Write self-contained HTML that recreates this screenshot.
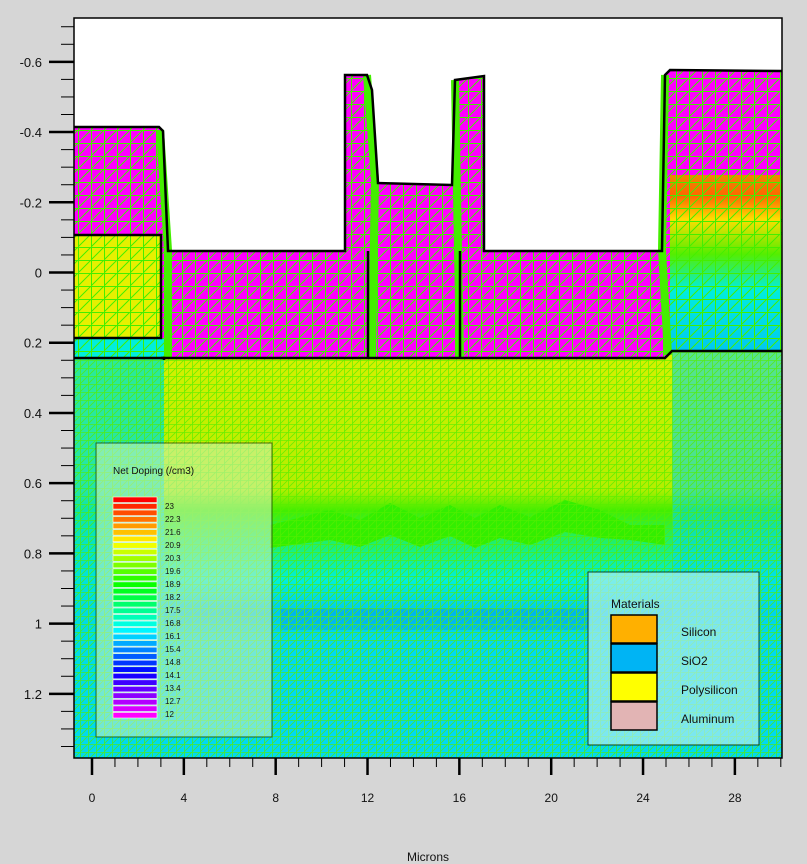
<!DOCTYPE html>
<html><head><meta charset="utf-8"><style>
body{margin:0;background:#d6d6d6;}
svg{display:block;font-family:"Liberation Sans",sans-serif;}
</style></head><body>
<svg id="chart" width="807" height="864" viewBox="0 0 807 864">
<defs>
<pattern id="mesh" width="13" height="13" patternUnits="userSpaceOnUse">
<path d="M0 0.5H13M0.5 0V13M0 13L13 0" stroke="#44ee00" stroke-width="1" fill="none"/>
</pattern>
<pattern id="meshf" width="8" height="8" patternUnits="userSpaceOnUse">
<path d="M0 0.5H8M0.5 0V8M0 8L8 0" stroke="#55ee00" stroke-width="0.8" fill="none" opacity="0.8"/>
</pattern>
<linearGradient id="subg" x1="0" y1="0" x2="0" y2="1">
<stop offset="0" stop-color="#d8f000"/>
<stop offset="0.35" stop-color="#b4ee00"/>
<stop offset="0.40" stop-color="#44ee00"/>
<stop offset="0.47" stop-color="#22ee66"/>
<stop offset="0.57" stop-color="#00eedd"/>
<stop offset="0.65" stop-color="#00c8f0"/>
<stop offset="0.71" stop-color="#00d8f4"/>
<stop offset="1" stop-color="#00d8f4"/>
</linearGradient>
<linearGradient id="rightg" x1="0" y1="0" x2="0" y2="1">
<stop offset="0" stop-color="#ee8800"/>
<stop offset="0.12" stop-color="#ff6600"/>
<stop offset="0.25" stop-color="#ffdd00"/>
<stop offset="0.45" stop-color="#55ee00"/>
<stop offset="0.65" stop-color="#00eedd"/>
<stop offset="1" stop-color="#00c8f0"/>
</linearGradient>
<linearGradient id="leftg" x1="0" y1="0" x2="0" y2="1">
<stop offset="0" stop-color="#00e8c0"/>
<stop offset="1" stop-color="#00d8f0"/>
</linearGradient>
</defs>
<rect x="74" y="18" width="708" height="740" fill="#ffffff"/>
<g id="regions"></g>
<g id="axes"></g>
<g id="legend"></g>
<text x="428" y="861" font-size="12" text-anchor="middle" fill="#111">Microns</text>
</svg>
<script>
const yTicks = [-0.6,-0.4,-0.2,0,0.2,0.4,0.6,0.8,1,1.2];
const xTicks = [0,4,8,12,16,20,24,28];
const legendLabels = ["23","22.3","21.6","20.9","20.3","19.6","18.9","18.2","17.5","16.8","16.1","15.4","14.8","14.1","13.4","12.7","12"];
const swatchCount = 34;
const materials = ["Silicon","SiO2","Polysilicon","Aluminum"];
const materialColors = ["#ffb000","#00b4f4","#ffff00","#e2b4b4"];

const NS="http://www.w3.org/2000/svg";
const X0=74,X1=782,Y0=18,Y1=758;
function xs(v){return 92+v*22.96;}
function ys(v){return 272.5+v*351.1;}
function mk(parent,tag,attrs){const e=document.createElementNS(NS,tag);for(const k in attrs)e.setAttribute(k,attrs[k]);parent.appendChild(e);return e;}

const R=document.getElementById('regions');
let e;
e=mk(R,'rect',{x:74,y:345,width:708,height:413,fill:'url(#subg)'});


e=mk(R,'rect',{x:74,y:340,width:90,height:418,fill:'url(#leftg)',opacity:0.8});


e=mk(R,'rect',{x:672,y:350,width:110,height:408,fill:'#00d8f0',opacity:0.6});


e=mk(R,'path',{d:'M270 525 L330 510 L360 520 L390 503 L420 518 L450 505 L475 518 L500 505 L530 517 L565 500 L600 510 L630 525 L665 525 L665 545 L630 540 L600 538 L565 532 L530 545 L500 538 L475 548 L450 536 L420 547 L390 535 L360 547 L330 540 L270 548Z',fill:'#33ee00'});


e=mk(R,'rect',{x:280,y:608,width:310,height:22,fill:'#0099ee',opacity:0.4});


e=mk(R,'rect',{x:74,y:345,width:708,height:413,fill:'url(#meshf)'});


const ox='M74 127 L159 127 L163 131 L168 251 L345 251 L345 75 L367 75 L372 90 L378 183 L452 185 L455 80 L484 76 L484 251 L662 251 L665 75 L670 70 L782 71 L782 351 L672 351 L665 358 L74 358Z';
e=mk(R,'path',{d:ox,fill:'#ff00ff'});


e=mk(R,'rect',{x:670,y:175,width:112,height:176,fill:'url(#rightg)'});


e=mk(R,'rect',{x:74,y:235,width:86,height:103,fill:'#e6f000'});


e=mk(R,'rect',{x:74,y:338,width:90,height:20,fill:'#00eedd'});


e=mk(R,'path',{d:ox,fill:'url(#mesh)'});


const edges=['M160 130 L168 250 L168 358','M367 75 L375 180 L372 358','M455 80 L458 250 L460 358','M665 75 L662 250 L668 355'];
edges.forEach(d=>{const p=mk(R,'path',{d:d,stroke:'#44ee00','stroke-width':8,fill:'none'});});
const outlines=['M74 127 L159 127 L163 131 L168 251 L345 251 L345 75 L367 75 L372 90 L378 183 L452 185 L455 80 L484 76 L484 251 L662 251 L665 75 L670 70 L782 71',
'M74 235 L161 235 L161 338 L74 338','M74 358 L164 358 L164 360','M161 358 L665 358 L672 351 L782 351','M368 251 L368 358','M460 251 L460 358'];
outlines.forEach(d=>{const p=mk(R,'path',{d:d,stroke:'#000','stroke-width':2.5,fill:'none'});});

const A=document.getElementById('axes');
e=mk(A,'rect',{x:74,y:18,width:708,height:740,fill:'none',stroke:'#000','stroke-width':1.5});


for(let v=-0.7;v<=1.351;v+=0.05){const y=ys(v);if(y<Y0||y>Y1)continue;
 const major=yTicks.some(t=>Math.abs(t-v)<1e-6);
 const l=mk(A,'line',{x1:major?49:61,x2:74,y1:y,y2:y,stroke:'#000','stroke-width':major?2.5:1});
 
 }
yTicks.forEach(t=>{const tx=mk(A,'text',{x:42,y:ys(t)+5,'font-size':13,'text-anchor':'end',fill:'#111'});tx.textContent=(t===0?'0':String(t));
 
 });
for(let v=-1;v<=30;v++){const x=xs(v);if(x<X0||x>X1+1)continue;
 const major=xTicks.includes(v);
 const l=mk(A,'line',{x1:x,x2:x,y1:758,y2:major?775:767,stroke:'#000','stroke-width':major?2.5:1});
 
 }
xTicks.forEach(t=>{const tx=mk(A,'text',{x:xs(t),y:802,'font-size':12,'text-anchor':'middle',fill:'#111'});tx.textContent=String(t);
 
 });

const L=document.getElementById('legend');
e=mk(L,'rect',{x:96,y:443,width:176,height:294,fill:'#d0f4c0',opacity:0.55,stroke:'#000','stroke-width':1});


e=mk(L,'text',{x:113,y:474,'font-size':10,fill:'#111'});e.textContent='Net Doping (/cm3)';


const sh=(719-497)/swatchCount;
for(let i=0;i<swatchCount;i++){
 const hue=i/(swatchCount-1)*300;
 const r=mk(L,'rect',{x:113,y:497+i*sh,width:44,height:sh-1,fill:`hsl(${hue},100%,50%)`,stroke:'#fff','stroke-width':0.6});
 
 }
legendLabels.forEach((s,i)=>{const t=mk(L,'text',{x:165,y:509+i*13,'font-size':8,fill:'#111'});t.textContent=s;
 
 });

e=mk(L,'rect',{x:588,y:572,width:171,height:173,fill:'#b0eef0',opacity:0.7,stroke:'#000','stroke-width':1});


e=mk(L,'text',{x:611,y:608,'font-size':12,fill:'#111'});e.textContent='Materials';


materials.forEach((m,i)=>{const y=615+i*29;
 const r=mk(L,'rect',{x:611,y:y,width:46,height:28,fill:materialColors[i],stroke:'#000','stroke-width':1.5});
 
 
 const t=mk(L,'text',{x:681,y:y+21,'font-size':12,fill:'#111'});t.textContent=m;
 
 });
</script>
</body></html>
